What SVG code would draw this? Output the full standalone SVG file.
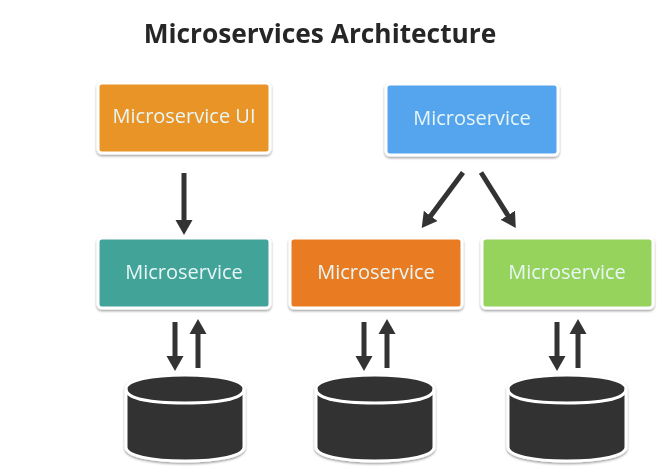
<svg xmlns="http://www.w3.org/2000/svg" width="668" height="476" viewBox="0 0 668 476">
<defs>
<filter id="soft" x="-5%" y="-20%" width="110%" height="140%"><feGaussianBlur stdDeviation="0.4"/></filter>
<filter id="sh" x="-10%" y="-10%" width="120%" height="125%"><feDropShadow dx="0" dy="1.5" stdDeviation="1.2" flood-color="#000" flood-opacity="0.4"/></filter>
<marker id="ah" markerUnits="userSpaceOnUse" markerWidth="18" markerHeight="18" refX="7" refY="9" orient="auto"><path d="M0 0.5L15 9L0 17.5Z" fill="#333"/></marker>
<g id="cyl">
<path d="M0 14C0 5 26 0 59 0S118 5 118 14V72C118 81 92 86 59 86S0 81 0 72Z" fill="#323232" stroke="#fff" stroke-width="3" filter="url(#sh)"/>
<path d="M0 14C0 24 26 28 59 28S118 24 118 14" fill="none" stroke="#fff" stroke-width="3"/>
</g>
</defs>
<style>
.box{stroke:#fff;stroke-width:3;filter:url(#sh)}
.lbl{font:20px "Open Sans","Noto Sans",sans-serif;fill:#e8f6f6;text-anchor:middle}
.ttl{font:bold 26.3px "Open Sans","Noto Sans",sans-serif;fill:#262626;text-anchor:middle}
.arr{stroke:#333;stroke-width:5;fill:none;marker-end:url(#ah)}
</style>
<rect width="668" height="476" fill="#fff"/>
<text class="ttl" x="320" y="43" filter="url(#soft)">Microservices Architecture</text>
<g id="connectors">
<line class="arr" x1="184" y1="173" x2="184" y2="227"/>
<line class="arr" x1="463" y1="172.5" x2="426.5" y2="221.5"/>
<line class="arr" x1="481" y1="172.5" x2="511.5" y2="221.2"/>
<line class="arr" x1="175" y1="322" x2="175" y2="363"/>
<line class="arr" x1="198" y1="368" x2="198" y2="327"/>
<line class="arr" x1="364" y1="322" x2="364" y2="363"/>
<line class="arr" x1="387" y1="368" x2="387" y2="327"/>
<line class="arr" x1="557" y1="322" x2="557" y2="363"/>
<line class="arr" x1="578" y1="368" x2="578" y2="327"/>
</g>
<g id="ui"><rect class="box" x="98" y="83" width="172" height="70" rx="4" fill="#e99425"/><text class="lbl" x="184" y="123" filter="url(#soft)">Microservice UI</text></g>
<g id="blue"><rect class="box" x="386" y="84" width="172" height="71" rx="4" fill="#54a5ee"/><text class="lbl" x="472" y="125" filter="url(#soft)">Microservice</text></g>
<g id="teal"><rect class="box" x="98" y="238" width="172" height="70" rx="4" fill="#43a398"/><text class="lbl" x="184" y="279" filter="url(#soft)">Microservice</text></g>
<g id="orange"><rect class="box" x="290" y="238" width="172" height="70" rx="4" fill="#e97c22"/><text class="lbl" x="376" y="279" filter="url(#soft)">Microservice</text></g>
<g id="green"><rect class="box" x="482" y="238" width="171" height="70" rx="4" fill="#96d35d"/><text class="lbl" x="567" y="279" filter="url(#soft)">Microservice</text></g>
<g id="db1"><use href="#cyl" x="126" y="375"/></g>
<g id="db2"><use href="#cyl" x="316" y="375"/></g>
<g id="db3"><use href="#cyl" x="508" y="375"/></g>
</svg>
